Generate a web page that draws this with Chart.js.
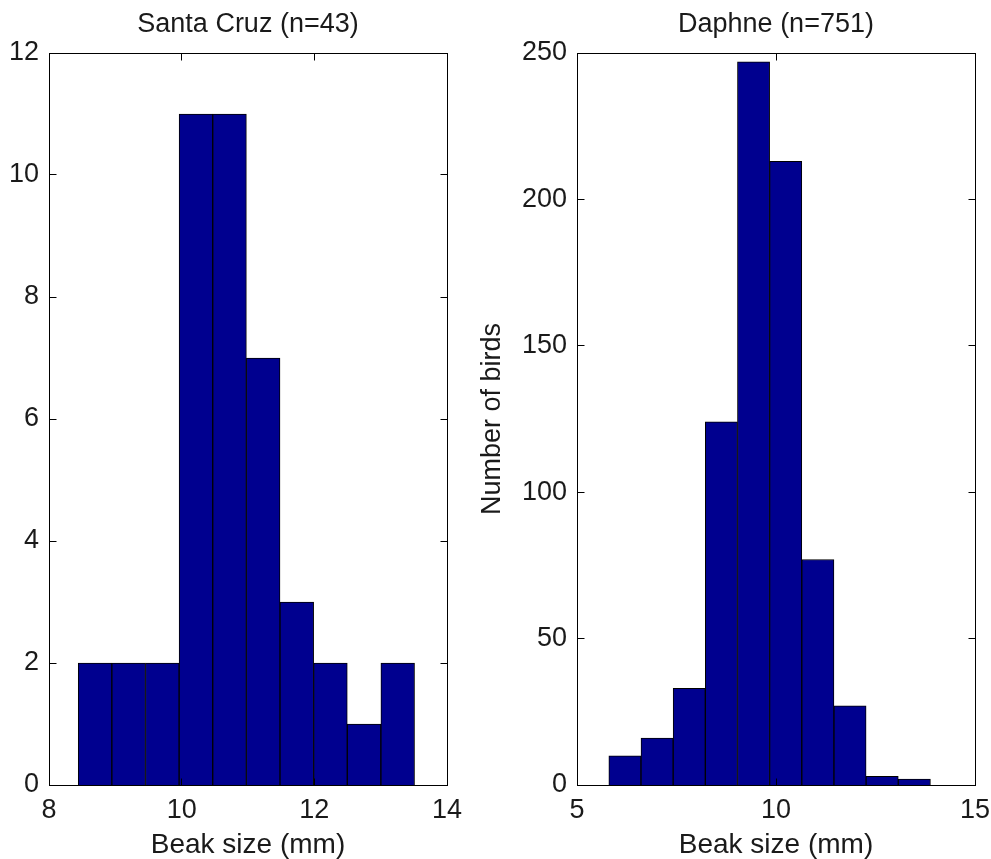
<!DOCTYPE html>
<html>
<head>
<meta charset="utf-8">
<title>Beak size histograms</title>
<script src="https://cdn.jsdelivr.net/npm/chart.js@4.4.0/dist/chart.umd.min.js"></script>
<style>
  body { margin: 0; background: #fff; }
  #wrap { position: relative; width: 991px; height: 859px; }
  #wrap canvas { position: absolute; left: 0; top: 0; }
</style>
</head>
<body>
<div id="wrap">
  <canvas id="santaCruz" width="991" height="859"></canvas>
  <canvas id="daphne" width="991" height="859"></canvas>
</div>
<script>
// bin centres (mm) and number of birds per bin
var santaCruzBins = [8.694, 9.201, 9.708, 10.215, 10.722, 11.229, 11.736, 12.243, 12.750, 13.257];
var santaCruzCounts = [2, 2, 2, 11, 11, 7, 3, 2, 1, 2];
var santaCruzXTicks = [8, 10, 12, 14];
var santaCruzYTicks = [0, 2, 4, 6, 8, 10, 12];

var daphneBins = [6.204, 7.012, 7.820, 8.628, 9.436, 10.244, 11.052, 11.860, 12.668, 13.476];
var daphneCounts = [10, 16, 33, 124, 247, 213, 77, 27, 3, 2];
var daphneXTicks = [5, 10, 15];
var daphneYTicks = [0, 50, 100, 150, 200, 250];

var ink = '#1a1a1a';
Chart.defaults.font.family = '"Liberation Sans", Arial, sans-serif';
Chart.defaults.color = ink;

// black frame round the plot area with short ticks pointing inwards on every side
var boxTicks = {
  id: 'boxTicks',
  afterDatasetsDraw: function(chart) {
    var c = chart.ctx, a = chart.chartArea;
    var L = Math.floor(a.left) + 0.5, R = Math.floor(a.right) + 0.5;
    var T = Math.floor(a.top) + 0.5, B = Math.floor(a.bottom) + 0.5;
    var len = 7;
    c.save();
    c.strokeStyle = '#000';
    c.lineWidth = 1;
    c.strokeRect(L, T, R - L, B - T);
    c.beginPath();
    chart.scales.x.ticks.forEach(function(t) {
      var px = Math.floor(chart.scales.x.getPixelForValue(t.value)) + 0.5;
      c.moveTo(px, B); c.lineTo(px, B - len);
      c.moveTo(px, T); c.lineTo(px, T + len);
    });
    chart.scales.y.ticks.forEach(function(t) {
      var py = Math.floor(chart.scales.y.getPixelForValue(t.value)) + 0.5;
      c.moveTo(L, py); c.lineTo(L + len, py);
      c.moveTo(R, py); c.lineTo(R - len, py);
    });
    c.stroke();
    c.restore();
  }
};

function histogram(id, bins, counts, xTicks, yTicks, title, yTitle, padLeft, padRight, yWidth) {
  var points = bins.map(function(x, i) { return { x: x, y: counts[i] }; });
  return new Chart(document.getElementById(id), {
    type: 'bar',
    data: {
      datasets: [{
        data: points,
        backgroundColor: '#00008f',
        borderColor: '#000',
        borderWidth: 1,
        barPercentage: 1,
        categoryPercentage: 1,
        grouped: false
      }]
    },
    options: {
      responsive: false,
      animation: false,
      layout: { padding: { left: padLeft, right: padRight, top: 0, bottom: 0 } },
      plugins: {
        legend: { display: false },
        tooltip: { enabled: false },
        title: {
          display: true,
          text: title,
          fullSize: false,
          color: ink,
          font: { size: 27, weight: 'normal' },
          padding: { top: 8, bottom: 12.6 }
        }
      },
      scales: {
        x: {
          type: 'linear',
          offset: false,
          min: xTicks[0],
          max: xTicks[xTicks.length - 1],
          grid: { display: false, drawTicks: false },
          border: { display: false },
          ticks: { font: { size: 27 }, padding: 9, color: ink, maxRotation: 0 },
          title: { display: true, text: 'Beak size (mm)', color: ink, font: { size: 28 }, padding: { top: 0, bottom: -3 } },
          afterBuildTicks: function(s) { s.ticks = xTicks.map(function(v) { return { value: v }; }); },
          afterFit: function(s) { s.height = 74; s.paddingLeft = 0; s.paddingRight = 0; }
        },
        y: {
          min: yTicks[0],
          max: yTicks[yTicks.length - 1],
          grid: { display: false, drawTicks: false },
          border: { display: false },
          ticks: { font: { size: 27 }, padding: 10, color: ink },
          title: { display: !!yTitle, text: yTitle, color: ink, font: { size: 27 }, padding: { top: 16, bottom: 0 } },
          afterBuildTicks: function(s) { s.ticks = yTicks.map(function(v) { return { value: v }; }); },
          afterFit: function(s) { s.width = yWidth; s.paddingTop = 0; s.paddingBottom = 0; }
        }
      }
    },
    plugins: [boxTicks]
  });
}

histogram('santaCruz', santaCruzBins, santaCruzCounts, santaCruzXTicks, santaCruzYTicks,
  'Santa Cruz (n=43)', '', 0, 544, 49);
histogram('daphne', daphneBins, daphneCounts, daphneXTicks, daphneYTicks,
  'Daphne (n=751)', 'Number of birds', 460, 16, 117);
</script>
</body>
</html>
